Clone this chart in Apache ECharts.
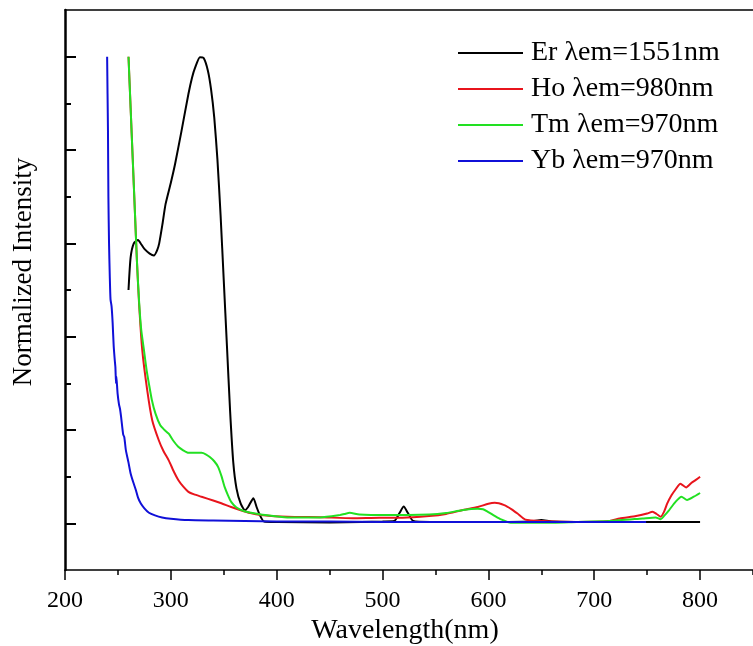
<!DOCTYPE html>
<html>
<head>
<meta charset="utf-8">
<script src="https://cdn.jsdelivr.net/npm/echarts@6/dist/echarts.min.js"></script>
<style>html,body{margin:0;padding:0;background:#fff}#c{width:753px;height:646px}</style>
</head>
<body>
<div id="c"></div>
<script>
const seriesNames = ['Er λem=1551nm', 'Ho λem=980nm', 'Tm λem=970nm', 'Yb λem=970nm'];
const seriesColors = ['#000000', '#e8141c', '#22e022', '#1010d8'];
const xTickValues = [200, 300, 400, 500, 600, 700, 800];
const xMinorTickValues = [250, 350, 450, 550, 650, 750, 850];
const yTickValues = [0, 0.2, 0.4, 0.6, 0.8, 1.0];
const yMinorTickValues = [0.1, 0.3, 0.5, 0.7, 0.9];

const erX = [260, 262, 265, 269, 272, 275, 280, 284, 287, 289, 292, 295, 300, 304, 310, 316.6, 320, 323, 327.5, 331, 335, 338, 341, 344, 347, 350, 353, 356, 359, 362, 366, 370, 373, 378, 381, 384, 388, 400, 450, 480, 500, 511, 516, 520, 524, 529, 545, 600, 640, 650, 660, 700, 750, 800];
const erY = [0.50, 0.57, 0.60, 0.607, 0.598, 0.588, 0.578, 0.574, 0.585, 0.60, 0.64, 0.684, 0.73, 0.77, 0.84, 0.92, 0.955, 0.977, 0.999, 0.997, 0.97, 0.93, 0.87, 0.78, 0.66, 0.52, 0.38, 0.24, 0.13, 0.075, 0.042, 0.028, 0.035, 0.054, 0.035, 0.018, 0.004, 0.003, 0.002, 0.003, 0.004, 0.005, 0.022, 0.036, 0.022, 0.005, 0.003, 0.003, 0.004, 0.007, 0.004, 0.003, 0.003, 0.003];

const hoX = [260, 262, 264, 266, 268, 270, 273, 277.7, 282.4, 288.6, 293, 298, 303, 307, 312, 316.6, 322, 329, 340, 347.7, 357, 366, 375, 385, 410, 441, 472, 497, 519, 544, 560, 575, 590, 600, 606, 615, 622, 627.5, 635, 652, 683.5, 714.6, 724, 739.5, 750, 755, 759, 762.8, 766, 769, 773, 776.8, 781.4, 786.8, 792, 796, 800];
const hoY = [1.0, 0.89, 0.78, 0.67, 0.56, 0.47, 0.371, 0.285, 0.221, 0.178, 0.155, 0.135, 0.11, 0.093, 0.078, 0.0675, 0.062, 0.057, 0.049, 0.043, 0.035, 0.028, 0.022, 0.018, 0.014, 0.013, 0.011, 0.012, 0.012, 0.0155, 0.02, 0.028, 0.035, 0.042, 0.044, 0.039, 0.03, 0.021, 0.008, 0.005, 0.003, 0.005, 0.0105, 0.0155, 0.021, 0.0248, 0.02, 0.014, 0.025, 0.0426, 0.06, 0.0725, 0.085, 0.077, 0.087, 0.093, 0.1];

const tmX = [260, 262, 264, 266, 268, 270, 272, 274.6, 277, 279.3, 282, 285.5, 290, 294, 298, 302, 307, 312, 316.6, 322, 329, 333, 336.8, 341, 344.6, 348, 350.8, 354, 357, 362, 369.5, 377, 385, 410, 441, 459.6, 464, 469, 478, 503, 544, 560, 575, 590, 595, 599.5, 606, 612, 621, 652, 683.5, 714.6, 745.7, 758, 762.8, 766, 770.6, 776.8, 782.4, 787.7, 794, 800];
const tmY = [1.0, 0.89, 0.78, 0.67, 0.56, 0.475, 0.415, 0.371, 0.33, 0.299, 0.265, 0.235, 0.21, 0.2, 0.192, 0.178, 0.164, 0.156, 0.151, 0.151, 0.151, 0.148, 0.142, 0.133, 0.121, 0.1, 0.078, 0.06, 0.046, 0.034, 0.026, 0.022, 0.019, 0.0127, 0.0127, 0.0176, 0.02, 0.0226, 0.019, 0.0176, 0.019, 0.022, 0.028, 0.031, 0.03, 0.0248, 0.016, 0.0084, 0.001, 0.001, 0.003, 0.005, 0.0105, 0.0127, 0.009, 0.016, 0.028, 0.046, 0.057, 0.05, 0.057, 0.065];

const ybX = [239.8, 240.2, 240.6, 241, 241.6, 242.3, 243, 244, 245, 246, 247, 247.6, 248.2, 248.5, 249.7, 251, 252, 253, 255, 256, 257.5, 260, 262, 264.5, 267, 269, 271.5, 275, 279.3, 285, 291.7, 300, 316.6, 340, 370, 400, 450, 500, 550, 600, 650, 700, 749];
const ybY = [1.0, 0.92, 0.84, 0.70, 0.60, 0.53, 0.48, 0.465, 0.43, 0.38, 0.35, 0.335, 0.30, 0.315, 0.278, 0.255, 0.245, 0.228, 0.19, 0.185, 0.157, 0.13, 0.107, 0.088, 0.071, 0.055, 0.043, 0.032, 0.0226, 0.017, 0.0127, 0.01, 0.007, 0.006, 0.005, 0.004, 0.004, 0.003, 0.003, 0.003, 0.003, 0.003, 0.003];

const allX = [erX, hoX, tmX, ybX];
const allY = [erY, hoY, tmY, ybY];
const FONT = "'Liberation Serif', 'Times New Roman', serif";

const chart = echarts.init(document.getElementById('c'), null, {renderer: 'canvas'});
const series = seriesNames.map((name, i) => ({
  name: name,
  type: 'line',
  xAxisIndex: 0,
  yAxisIndex: 0,
  data: allX[i].map((x, k) => [x, allY[i][k]]),
  showSymbol: false,
  symbol: 'none',
  smooth: 0.2,
  lineStyle: {color: seriesColors[i], width: 2},
  itemStyle: {color: seriesColors[i]},
  animation: false
}));

chart.setOption({
  animation: false,
  backgroundColor: '#fff',
  grid: {left: 65, top: 10, width: 697, height: 560, containLabel: false},
  legend: {
    orient: 'vertical',
    left: 453,
    top: 33,
    itemWidth: 65,
    itemHeight: 2,
    itemGap: 6,
    icon: 'rect',
    data: seriesNames,
    textStyle: {fontFamily: FONT, fontSize: 28, color: '#000', lineHeight: 30, padding: [0, 0, 0, 3]}
  },
  xAxis: [
    {
      type: 'value', position: 'bottom', min: 200, max: 850, interval: 100,
      axisLine: {show: true, onZero: false, lineStyle: {color: '#000', width: 1.5}},
      axisTick: {show: true, inside: false, length: 10, customValues: xTickValues, lineStyle: {color: '#000', width: 1.5}},
      axisLabel: {show: true, customValues: xTickValues, margin: 19, fontFamily: FONT, fontSize: 24, color: '#000'},
      splitLine: {show: false}
    },
    {
      type: 'value', position: 'bottom', min: 200, max: 850, interval: 50,
      axisLine: {show: false, onZero: false},
      axisTick: {show: true, inside: false, length: 5, customValues: xMinorTickValues, lineStyle: {color: '#000', width: 1.5}},
      axisLabel: {show: false},
      splitLine: {show: false}
    },
    {
      type: 'value', position: 'top', min: 200, max: 850,
      axisLine: {show: true, onZero: false, lineStyle: {color: '#000', width: 1.5}},
      axisTick: {show: false}, axisLabel: {show: false}, splitLine: {show: false}
    }
  ],
  yAxis: [
    {
      type: 'value', position: 'left', min: -0.1, max: 1.1, interval: 0.1,
      axisLine: {show: true, onZero: false, lineStyle: {color: '#000', width: 2.5}},
      axisTick: {show: true, inside: true, length: 11, customValues: yTickValues, lineStyle: {color: '#000', width: 2}},
      axisLabel: {show: false},
      splitLine: {show: false}
    },
    {
      type: 'value', position: 'left', min: -0.1, max: 1.1, interval: 0.1,
      axisLine: {show: false, onZero: false},
      axisTick: {show: true, inside: true, length: 6, customValues: yMinorTickValues, lineStyle: {color: '#000', width: 2}},
      axisLabel: {show: false},
      splitLine: {show: false}
    }
  ],
  graphic: [
    {type: 'text', x: 24, y: 272, rotation: Math.PI / 2,
     style: {text: 'Normalized Intensity', fontFamily: FONT, fontSize: 27, fill: '#000', align: 'center', verticalAlign: 'middle'}},
    {type: 'text', x: 405, y: 631,
     style: {text: 'Wavelength(nm)', fontFamily: FONT, fontSize: 28, fill: '#000', align: 'center', verticalAlign: 'middle'}}
  ],
  series: series
});
</script>
</body>
</html>
